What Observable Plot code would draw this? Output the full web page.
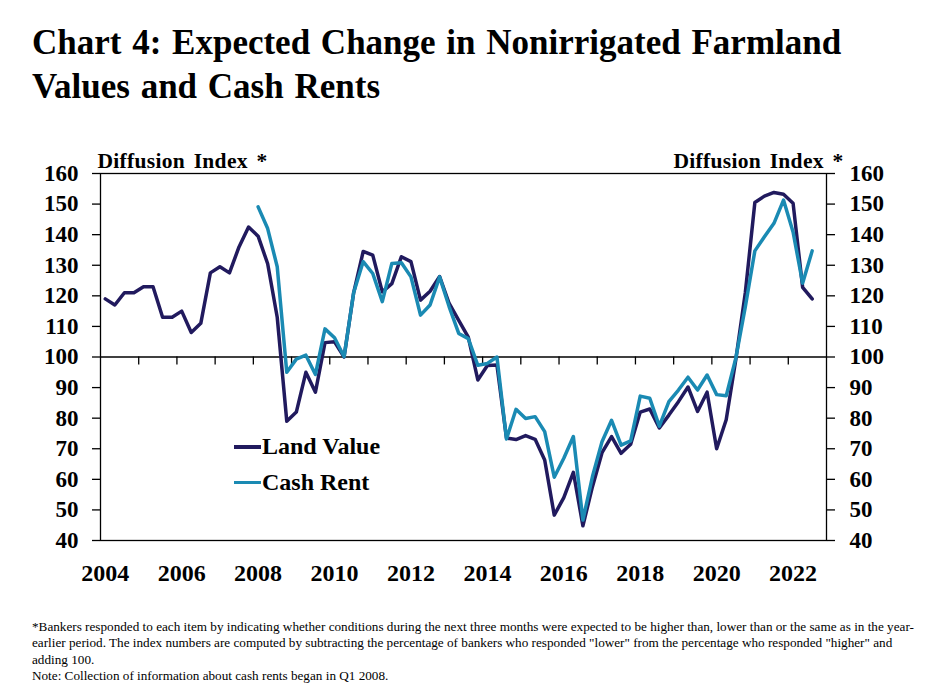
<!DOCTYPE html>
<html>
<head>
<meta charset="utf-8">
<script src="https://cdn.jsdelivr.net/npm/d3@7"></script>
<script src="https://cdn.jsdelivr.net/npm/@observablehq/plot@0.6"></script>
<style>
  body { margin: 0; background: #fff; }
  #wrap { position: relative; width: 925px; height: 693px; font-family: "Liberation Serif", "Times New Roman", serif; color: #000; }
  #title { position: absolute; left: 32px; top: 21px; font-size: 35px; font-weight: bold; line-height: 44px; word-spacing: 2px; white-space: nowrap; }
  #chart { position: absolute; left: 0; top: 135px; }
  .leg { position: absolute; font-size: 24px; font-weight: bold; line-height: 24px; white-space: nowrap; }
  .sw { position: absolute; width: 27px; height: 3.5px; }
  #note { position: absolute; left: 32px; top: 619px; font-family: "Liberation Serif", serif; font-size: 13.2px; line-height: 16.3px; white-space: nowrap; }
  .ylab text { word-spacing: 3px; letter-spacing: 0.3px; }
</style>
</head>
<body>
<div id="wrap">
  <div id="title">Chart 4: Expected Change in Nonirrigated Farmland<br>Values and Cash Rents</div>
  <div id="chart"></div>
  <div class="sw" id="swLand" style="left:234px; top:445px;"></div>
  <div class="leg" id="legLand" style="left:262px; top:434px;"></div>
  <div class="sw" id="swCash" style="left:234px; top:480.5px;"></div>
  <div class="leg" id="legCash" style="left:262px; top:469.5px;"></div>
  <div id="note">*Bankers responded to each item by indicating whether conditions during the next three months were expected to be higher than, lower than or the same as in the year-<br>earlier period. The index numbers are computed by subtracting the percentage of bankers who responded "lower" from the percentage who responded "higher" and<br>adding 100.<br>Note: Collection of information about cash rents began in Q1 2008.</div>
</div>
<script>
// ---- Data (quarterly diffusion index) ----
const firstYear = 2004;            // Land Value series starts 2004 Q1
const cashFirstYear = 2008;        // Cash Rent series starts 2008 Q1
const seriesNames = ["Land Value", "Cash Rent"];
const seriesColors = ["#211a5e", "#1a8ab3"];

const landValue = [
  119, 117, 121, 121,
  123, 123, 113, 113,
  115, 108, 111, 127.5,
  129.5, 127.5, 136, 142.5,
  139.5, 130.5, 113, 79,
  82, 95, 88.5, 104.7,
  105, 100, 121, 134.5,
  133.3, 121.3, 124, 132.8,
  131.2, 118.6, 121.5, 126.3,
  117.5, 112, 106.5, 92.5,
  97.2, 97.4, 73.5, 73,
  74.3, 73.1, 66.3, 48.3,
  54, 62.3, 44.8, 57.6,
  68.7, 74, 68.5, 71.5,
  82, 83, 76.8, 81,
  85.4, 90.2, 82.2, 88.5,
  70, 79.5, 99, 121,
  150.5, 152.6, 153.8, 153.2,
  150.3, 122.8, 119
];

const cashRent = [
  149.1, 142, 129.5, 95,
  99.3, 100.6, 94.3, 109.2,
  106.3, 100.1, 121, 131.2,
  127.3, 118.1, 130.6, 130.8,
  126.2, 113.7, 117, 126.2,
  116.4, 107.7, 106, 97.3,
  97.9, 100, 73.2, 82.9,
  79.9, 80.5, 75.6, 60.7,
  66.9, 74, 46.7, 60.9,
  72.3, 79.3, 71.2, 72.6,
  87.2, 86.5, 77.4, 85.4,
  89.2, 93.4, 89.2, 94.1,
  87.7, 87.3, 99.5, 116.4,
  134.7, 139.3, 143.7, 151.3,
  140.9, 124.1, 134.7
];

const yearLabels = ["2004","2006","2008","2010","2012","2014","2016","2018","2020","2022"];
const yTicks = [40, 50, 60, 70, 80, 90, 100, 110, 120, 130, 140, 150, 160];
const yAxisTitle = "Diffusion Index *";
const nQuarters = 76; // axis spans 2004 Q1 .. 2022 Q4

// ---- Build tables ----
const landData = landValue.map((v, i) => ({q: i, v}));
const cashOffset = (cashFirstYear - firstYear) * 4;
const cashData = cashRent.map((v, i) => ({q: i + cashOffset, v}));
const labelPos = yearLabels.map(y => (+y - firstYear) * 4);
const yearBoundaries = d3.range(1, nQuarters / 4).map(k => k * 4 - 0.5);

const fontFam = '"Liberation Serif", "Times New Roman", serif';

const chart = Plot.plot({
  width: 925,
  height: 460,
  marginLeft: 100,
  marginRight: 99,
  marginTop: 38,
  marginBottom: 55,
  style: { fontFamily: fontFam, fontWeight: "bold", fontSize: "21px", color: "#000", background: "transparent", overflow: "visible" },
  x: { domain: [-0.5, nQuarters - 0.5], axis: null },
  y: { domain: [40, 160], axis: null },
  marks: [
    Plot.ruleY([100], { stroke: "#000", strokeWidth: 1.3 }),
    Plot.ruleX(yearBoundaries, { x: d => d, y1: 100, y2: 97.4, stroke: "#000", strokeWidth: 1.3 }),
    Plot.axisY(yTicks, { anchor: "left", tickSize: 8, tickPadding: 14, tickFormat: d => String(d), label: null, fontSize: 23, fontWeight: "bold", stroke: "#000", strokeWidth: 1.3 }),
    Plot.axisY(yTicks, { anchor: "right", tickSize: 8, tickPadding: 15, tickFormat: d => String(d), label: null, fontSize: 23, fontWeight: "bold", stroke: "#000", strokeWidth: 1.3 }),
    Plot.axisX(labelPos, { anchor: "bottom", tickSize: 0, tickPadding: 23, tickFormat: (d, i) => yearLabels[i], label: null, fontSize: 24, fontWeight: "bold" }),
    Plot.line(landData, { x: "q", y: "v", stroke: seriesColors[0], strokeWidth: 3.5, strokeLinejoin: "round" }),
    Plot.line(cashData, { x: "q", y: "v", stroke: seriesColors[1], strokeWidth: 3.5, strokeLinejoin: "round" }),
    Plot.frame({ stroke: "#000", strokeWidth: 1.3 }),
    Plot.text([yAxisTitle], { frameAnchor: "top-left", textAnchor: "start", lineAnchor: "bottom", dx: -3, dy: -6, fontSize: 21.5, fontWeight: "bold", fill: "#000", className: "ylab" }),
    Plot.text([yAxisTitle], { frameAnchor: "top-right", textAnchor: "end", lineAnchor: "bottom", dx: 17, dy: -6, fontSize: 21.5, fontWeight: "bold", fill: "#000", className: "ylab" })
  ]
});
document.getElementById("chart").appendChild(chart);

document.getElementById("legLand").textContent = seriesNames[0];
document.getElementById("legCash").textContent = seriesNames[1];
document.getElementById("swLand").style.background = seriesColors[0];
document.getElementById("swCash").style.background = seriesColors[1];
</script>
</body>
</html>
